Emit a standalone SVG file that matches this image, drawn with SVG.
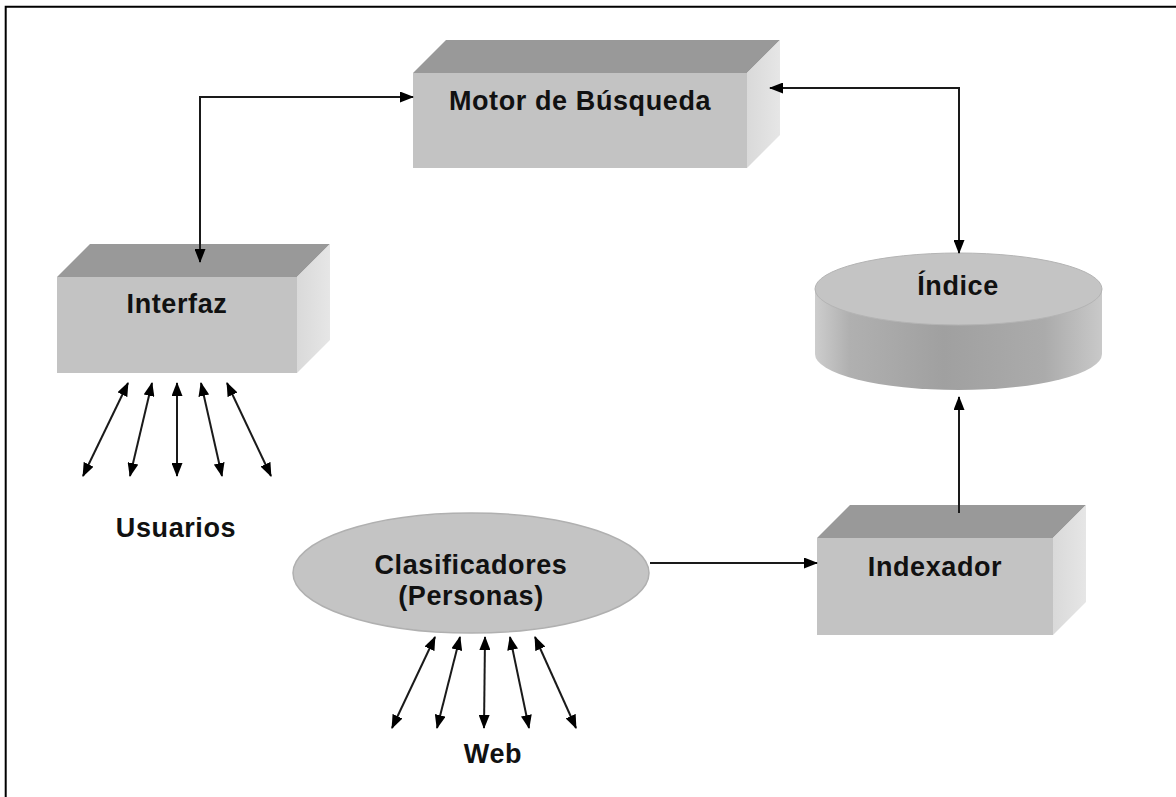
<svg xmlns="http://www.w3.org/2000/svg" width="1176" height="797" viewBox="0 0 1176 797">
  <style>
    .front { fill: #c3c3c3; }
    .top { fill: #999999; }
    .side { fill: url(#sideShade); }
    .label { font-family: "Liberation Sans", Arial, sans-serif; font-weight: bold; font-size: 27px; letter-spacing: 0.6px; fill: #111111; text-anchor: middle; }
    .conn { fill: none; stroke: #1a1a1a; stroke-width: 2; }
  </style>
  <defs>
    <linearGradient id="sideShade" x1="0" y1="0" x2="1" y2="0">
      <stop offset="0" stop-color="#d9d9d9"/>
      <stop offset="1" stop-color="#e6e6e6"/>
    </linearGradient>
    <linearGradient id="drumShade" x1="0" y1="0" x2="1" y2="0">
      <stop offset="0" stop-color="#cdcdcd"/>
      <stop offset="0.12" stop-color="#b0b0b0"/>
      <stop offset="0.45" stop-color="#a0a0a0"/>
      <stop offset="0.8" stop-color="#ababab"/>
      <stop offset="1" stop-color="#c9c9c9"/>
    </linearGradient>
    <marker id="head" viewBox="0 0 14 11" refX="13" refY="5.5" markerWidth="14" markerHeight="11" markerUnits="userSpaceOnUse" orient="auto-start-reverse">
      <path d="M0,0 L14,5.5 L0,11 z" fill="#000000"/>
    </marker>
  </defs>

  <rect x="0" y="0" width="1176" height="797" fill="#ffffff"/>
  <!-- frame: top and left edges -->
  <path d="M5.7,797 L5.7,6.7 L1176,6.7" fill="none" stroke="#000000" stroke-width="2"/>

  <!-- Motor de Búsqueda -->
  <g id="motor">
    <polygon class="top" points="413,73 446,40 780,40 747,73"/>
    <polygon class="side" points="747,73 780,40 780,135 747,168"/>
    <rect class="front" x="413" y="73" width="334" height="95"/>
    <text class="label" x="580" y="110">Motor de Búsqueda</text>
  </g>

  <!-- Interfaz -->
  <g id="interfaz">
    <polygon class="top" points="57,277 90,244 330,244 297,277"/>
    <polygon class="side" points="297,277 330,244 330,340 297,373"/>
    <rect class="front" x="57" y="277" width="240" height="96"/>
    <text class="label" x="177" y="313">Interfaz</text>
  </g>

  <!-- Índice (cylinder) -->
  <g id="indice">
    <path d="M815,289 L815,354 A143.5,36 0 0 0 1102,354 L1102,289 Z" fill="url(#drumShade)"/>
    <ellipse cx="958.5" cy="289" rx="143.5" ry="36" fill="#c4c4c4" stroke="#b4b4b4" stroke-width="1"/>
    <text class="label" x="958" y="295">Índice</text>
  </g>

  <!-- Indexador -->
  <g id="indexador">
    <polygon class="top" points="817,538 850,505 1086,505 1053,538"/>
    <polygon class="side" points="1053,538 1086,505 1086,602 1053,635"/>
    <rect class="front" x="817" y="538" width="236" height="97"/>
    <text class="label" x="935" y="576">Indexador</text>
  </g>

  <!-- Clasificadores (Personas) -->
  <g id="clasificadores">
    <ellipse cx="471" cy="573" rx="178" ry="60" fill="#c4c4c4" stroke="#b0b0b0" stroke-width="1.5"/>
    <text class="label" x="471" y="574">Clasificadores</text>
    <text class="label" x="471" y="605">(Personas)</text>
  </g>

  <g id="usuarios">
    <text class="label" x="176" y="537">Usuarios</text>
  </g>

  <g id="web">
    <text class="label" x="493" y="763">Web</text>
  </g>

  <!-- connectors -->
  <g id="connectors" class="conn">
    <path class="conn" d="M200,262 L200,97 L413,97" marker-start="url(#head)" marker-end="url(#head)"/>
    <path class="conn" d="M770,88 L959,88 L959,253" marker-start="url(#head)" marker-end="url(#head)"/>
    <path class="conn" d="M959,513 L959,397" marker-end="url(#head)"/>
    <path class="conn" d="M650,563 L817,563" marker-end="url(#head)"/>

    <!-- user links -->
    <path class="conn" d="M128,383 L83,476" marker-start="url(#head)" marker-end="url(#head)"/>
    <path class="conn" d="M152,383 L130,476" marker-start="url(#head)" marker-end="url(#head)"/>
    <path class="conn" d="M177,383 L177,476" marker-start="url(#head)" marker-end="url(#head)"/>
    <path class="conn" d="M201,383 L222,476" marker-start="url(#head)" marker-end="url(#head)"/>
    <path class="conn" d="M227,383 L271,476" marker-start="url(#head)" marker-end="url(#head)"/>

    <!-- web links -->
    <path class="conn" d="M435,637 L392,728" marker-start="url(#head)" marker-end="url(#head)"/>
    <path class="conn" d="M460,637 L437,728" marker-start="url(#head)" marker-end="url(#head)"/>
    <path class="conn" d="M485,637 L484,728" marker-start="url(#head)" marker-end="url(#head)"/>
    <path class="conn" d="M510,637 L529,728" marker-start="url(#head)" marker-end="url(#head)"/>
    <path class="conn" d="M535,637 L576,728" marker-start="url(#head)" marker-end="url(#head)"/>
  </g>
</svg>
